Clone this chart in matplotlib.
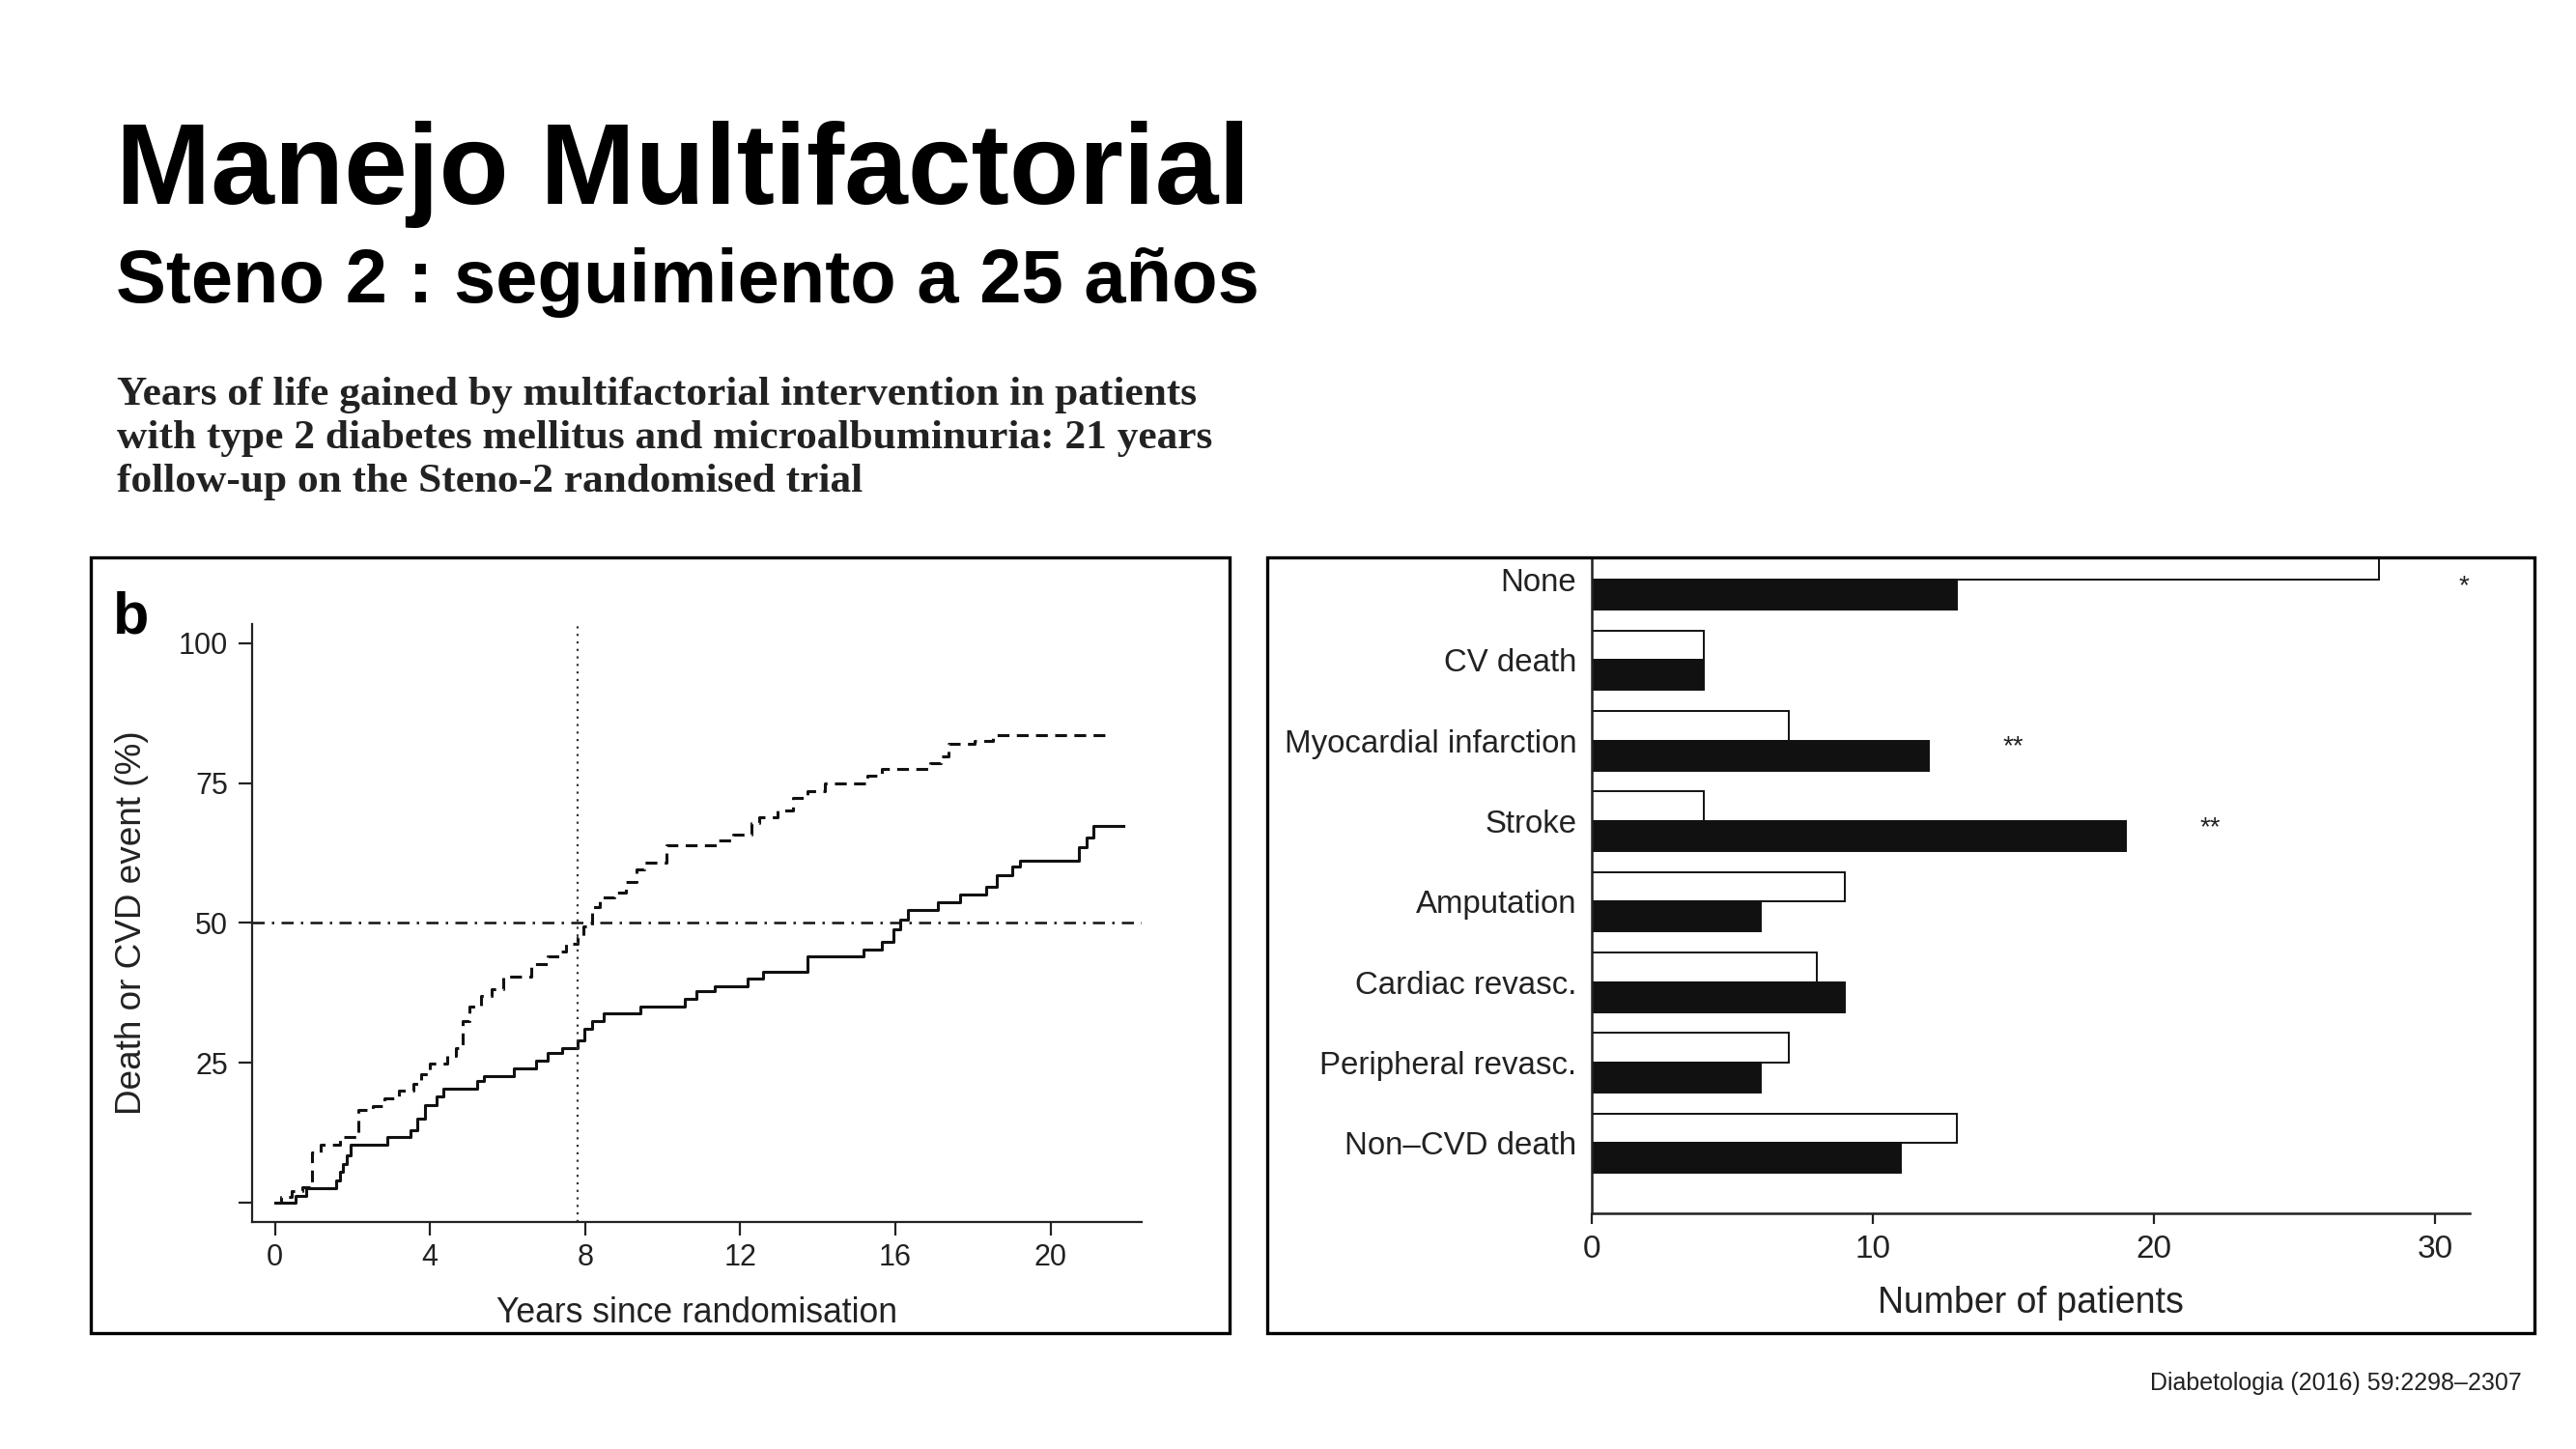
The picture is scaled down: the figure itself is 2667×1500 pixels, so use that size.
import matplotlib
matplotlib.use('Agg')
import matplotlib.pyplot as plt
from matplotlib.patches import Rectangle

plt.rcParams['font.family'] = ['Liberation Sans', 'DejaVu Sans']

# panel b: cumulative incidence (step curves)
conv_t = [0.0, 0.17, 0.42, 0.71, 0.96, 1.19, 1.67, 2.15, 2.53, 2.82, 3.20, 3.58, 3.77, 4.00,
          4.44, 4.67, 4.83, 5.02, 5.31, 5.59, 5.88, 6.61, 7.03, 7.32, 7.51, 7.80, 7.95, 8.18,
          8.37, 8.75, 9.04, 9.33, 9.52, 10.10, 11.44, 11.82, 12.30, 12.49, 12.97, 13.35, 13.74,
          14.18, 15.27, 15.65, 16.90, 17.18, 17.38, 18.05, 18.52, 21.49]
conv_v = [0.0, 1.0, 2.0, 2.8, 9.0, 10.4, 11.7, 16.5, 17.3, 18.6, 20.0, 21.2, 23.0, 24.8,
          26.3, 27.6, 32.5, 35.0, 37.0, 38.2, 40.4, 42.6, 44.0, 44.9, 46.2, 47.5, 49.3, 52.8,
          54.6, 55.5, 57.3, 59.5, 60.8, 63.9, 64.8, 65.7, 67.9, 68.8, 70.1, 72.3, 73.6,
          75.0, 76.3, 77.6, 78.5, 79.8, 82.0, 82.5, 83.6, 83.6]
int_t = [0.0, 0.52, 0.80, 1.57, 1.67, 1.76, 1.86, 1.95, 2.91, 3.49, 3.68, 3.87, 4.16, 4.35,
         5.21, 5.40, 6.17, 6.74, 7.03, 7.41, 7.80, 7.99, 8.18, 8.47, 9.43, 10.57, 10.86, 11.34,
         12.20, 12.59, 13.74, 15.17, 15.65, 15.94, 16.13, 16.32, 17.09, 17.66, 18.33, 18.62,
         19.00, 19.20, 20.73, 20.92, 21.11, 21.88]
int_v = [0.0, 1.3, 2.6, 4.0, 5.5, 7.0, 8.4, 10.4, 11.7, 13.0, 15.0, 17.5, 19.0, 20.4,
         21.8, 22.7, 24.0, 25.4, 26.7, 27.6, 29.0, 31.0, 32.5, 33.8, 35.0, 36.5, 37.8, 38.7,
         40.0, 41.3, 44.0, 45.3, 46.6, 48.8, 50.6, 52.4, 53.7, 55.0, 56.4, 58.6,
         60.0, 61.2, 63.5, 65.2, 67.4, 67.4]
median_year = 7.8
half_line = 50
y_ticks = [0, 25, 50, 75, 100]
y_ticklabels = ['', '25', '50', '75', '100']
x_ticks = [0, 4, 8, 12, 16, 20]

# right panel: events per group
categories = ['None', 'CV death', 'Myocardial infarction', 'Stroke', 'Amputation',
              'Cardiac revasc.', 'Peripheral revasc.', 'Non\u2013CVD death']
intensive = [28, 4, 7, 4, 9, 8, 7, 13]
conventional = [13, 4, 12, 19, 6, 9, 6, 11]
stars = ['*', '**', '**']
star_cat = [0, 2, 3]
star_x = [31, 15, 22]

paper_title = ['Years of life gained by multifactorial intervention in patients',
               'with type 2 diabetes mellitus and microalbuminuria: 21 years',
               'follow-up on the Steno-2 randomised trial']

fig = plt.figure(figsize=(13.335, 7.5), dpi=200)
fig.patch.set_facecolor('white')

fig.text(0.0450, 0.859, 'Manejo Multifactorial', fontsize=42.5, fontweight='bold', va='baseline')
fig.text(0.0450, 0.7913, 'Steno 2 : seguimiento a 25 a\u00f1os', fontsize=28, fontweight='bold',
         va='baseline')
for i, line in enumerate(paper_title):
    fig.text(0.0452, 0.7207 - i * 0.0300, line, fontsize=15.6, fontweight='bold',
             family=['Liberation Serif', 'DejaVu Serif'], va='baseline', color='#222222')
fig.text(0.979, 0.0407, 'Diabetologia (2016) 59:2298\u20132307', fontsize=9, ha='right',
         va='baseline', color='#222222')

# frames round the two panels
fig.add_artist(Rectangle((0.03525, 0.08), 0.4420, 0.5353, transform=fig.transFigure,
                         fill=False, lw=1.2, ec='black'))
fig.add_artist(Rectangle((0.4919, 0.08), 0.4921, 0.5353, transform=fig.transFigure,
                         fill=False, lw=1.2, ec='black'))

# ---- left panel
ax1 = fig.add_axes([0.0978, 0.1569, 0.3454, 0.4124])
ax1.step(conv_t, conv_v, where='post', color='#111111', lw=1.1, linestyle=(0, (4, 2.5)))
ax1.step(int_t, int_v, where='post', color='#111111', lw=1.1)
ax1.axvline(median_year, color='#333333', lw=0.8, linestyle=(0, (1, 2.5)))
ax1.axhline(half_line, color='#111111', lw=0.9, linestyle=(0, (5, 3, 1, 3)))
ax1.set_xlim(-0.593, 22.35)
ax1.set_ylim(-3.38, 103.4)
ax1.set_xticks(x_ticks)
ax1.set_yticks(y_ticks)
ax1.set_yticklabels(y_ticklabels)
ax1.tick_params(direction='out', length=5, width=0.8, labelsize=11, pad=4, colors='#222222')
ax1.tick_params(axis='x', pad=3)
for s in ['top', 'right']:
    ax1.spines[s].set_visible(False)
for s in ['left', 'bottom']:
    ax1.spines[s].set_linewidth(0.8)
    ax1.spines[s].set_color('#222222')
ax1.set_xlabel('Years since randomisation', fontsize=12.8, labelpad=9, color='#222222')
ax1.set_ylabel('Death or CVD event (%)', fontsize=13.3, labelpad=11, color='#222222')
fig.text(0.0439, 0.5633, 'b', fontsize=22, fontweight='bold', va='baseline')

# ---- right panel
ax2 = fig.add_axes([0.6179, 0.1627, 0.3409, 0.4520])
pos = [len(categories) - 1 - i for i in range(len(categories))]
bh = 0.37
ax2.barh(pos, intensive, height=bh, align='edge', color='white', edgecolor='#111111', lw=0.7)
ax2.barh(pos, conventional, height=-bh, align='edge', color='#111111', edgecolor='#111111',
         lw=0.7)
for s, c, x in zip(stars, star_cat, star_x):
    ax2.text(x, pos[c] - 0.08, s, fontsize=10, ha='center', va='center', color='#222222')
ax2.set_xlim(0, 31.23)
ax2.set_ylim(-0.87, 7.265)
ax2.set_yticks(pos)
ax2.set_yticklabels(categories, fontsize=11.9, color='#222222')
ax2.set_xticks([0, 10, 20, 30])
ax2.tick_params(axis='y', length=0, pad=5.6)
ax2.tick_params(axis='x', direction='out', length=4, width=0.8, labelsize=12, pad=4,
                colors='#222222')
for s in ['top', 'right']:
    ax2.spines[s].set_visible(False)
for s in ['left', 'bottom']:
    ax2.spines[s].set_linewidth(0.9)
    ax2.spines[s].set_color('#222222')
ax2.set_xlabel('Number of patients', fontsize=13.5, labelpad=8, color='#222222')

fig.savefig('out.png', dpi=200, facecolor='white')
